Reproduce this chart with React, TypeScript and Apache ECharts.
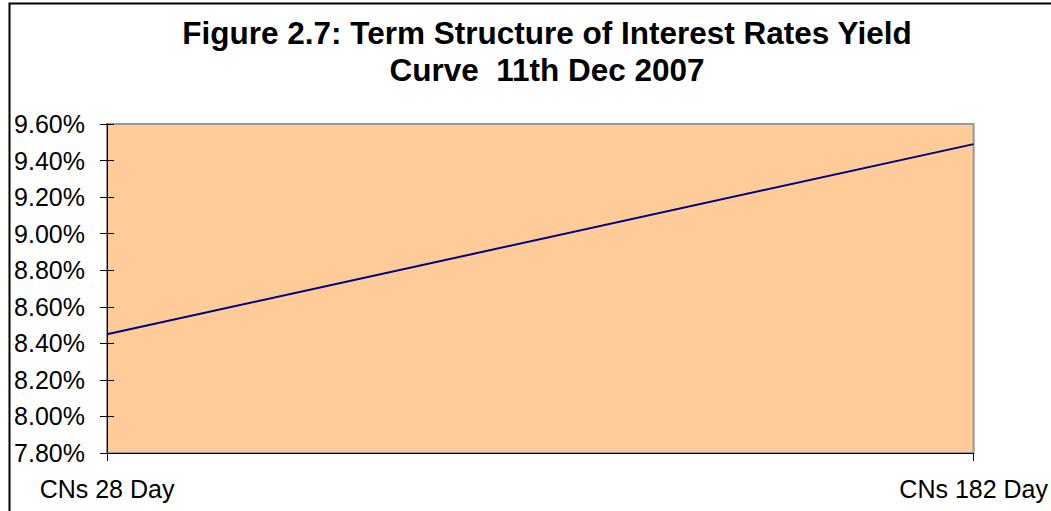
import React, { useEffect, useRef } from "react";
import * as echarts from "echarts";

const categories = ["CNs 28 Day", "CNs 182 Day"];
const yieldValues = [8.45, 9.49];
const yMin = 7.8;
const yMax = 9.6;
const yStep = 0.2;
const titleLines = ["Figure 2.7: Term Structure of Interest Rates Yield", "Curve  11th Dec 2007"];

export default function App() {
  const ref = useRef<HTMLDivElement>(null);
  useEffect(() => {
    if (!ref.current) return;
    const chart = echarts.init(ref.current, null, { renderer: "svg" });
    const font = "'Liberation Sans', Arial, sans-serif";
    const yAxisBase = {
      type: "value" as const,
      min: yMin,
      max: yMax,
      interval: yStep,
      position: "left" as const,
      splitLine: { show: false },
    };
    chart.setOption({
      animation: false,
      backgroundColor: "#ffffff",
      title: {
        text: titleLines.join("\n"),
        left: 542,
        top: 9,
        textAlign: "center",
        textStyle: {
          fontFamily: font,
          fontSize: 31.5,
          fontWeight: "bold",
          color: "#000",
          lineHeight: 37,
        },
      },
      graphic: [
        {
          type: "rect",
          shape: { x: 9.5, y: 3.5, width: 1200, height: 700 },
          style: { fill: "none", stroke: "#000", lineWidth: 2 },
          silent: true,
          z: 100,
        },
      ],
      grid: {
        left: 107,
        right: 75,
        top: 124,
        bottom: 58,
        show: true,
        backgroundColor: "#FFCC99",
        borderColor: "#999999",
        borderWidth: 2,
      },
      xAxis: {
        type: "category",
        data: categories,
        boundaryGap: false,
        axisLine: { show: true, lineStyle: { color: "#000", width: 1 } },
        axisTick: { show: true, inside: false, length: 8, lineStyle: { color: "#000" } },
        axisLabel: { fontFamily: font, fontSize: 25, color: "#000", margin: 23 },
        splitLine: { show: false },
      },
      yAxis: [
        {
          ...yAxisBase,
          axisLine: { show: true, lineStyle: { color: "#000", width: 1 } },
          axisTick: { show: true, inside: false, length: 7, lineStyle: { color: "#000" } },
          axisLabel: {
            fontFamily: font,
            fontSize: 25,
            color: "#000",
            margin: 22,
            formatter: (v: number) => v.toFixed(2) + "%",
          },
        },
        {
          ...yAxisBase,
          axisLine: { show: false },
          axisTick: { show: true, inside: true, length: 7, lineStyle: { color: "#000" } },
          axisLabel: { show: false },
        },
      ],
      series: [
        {
          type: "line",
          data: yieldValues,
          symbol: "none",
          lineStyle: { color: "#000080", width: 2 },
          yAxisIndex: 0,
        },
      ],
    });
    return () => chart.dispose();
  }, []);
  return (
    <div
      ref={ref}
      style={{ position: "absolute", left: 0, top: 0, width: 1051, height: 511 }}
    />
  );
}
